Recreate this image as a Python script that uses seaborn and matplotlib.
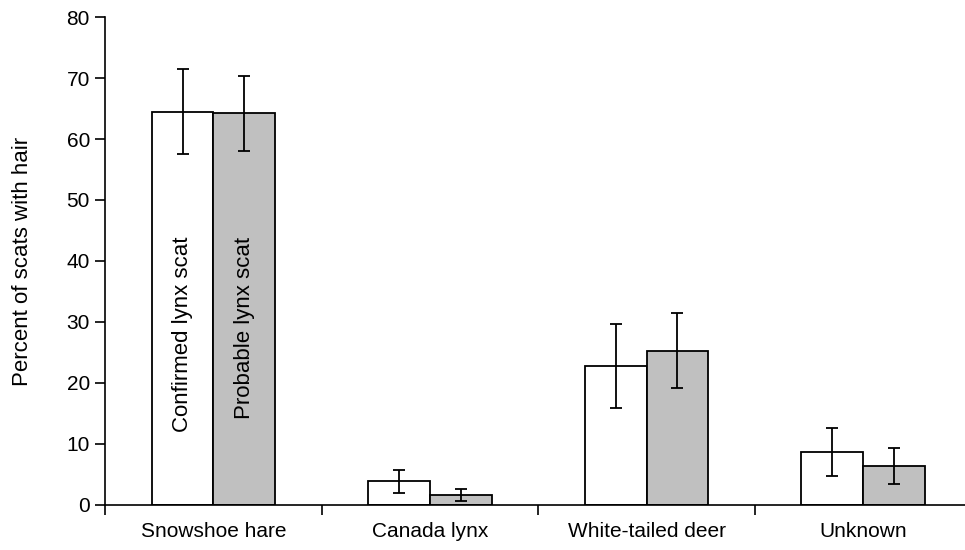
import matplotlib
matplotlib.use('Agg')
import matplotlib.pyplot as plt
import seaborn as sns
import pandas as pd

categories = ['Snowshoe hare', 'Canada lynx', 'White-tailed deer', 'Unknown']
groups = ['Confirmed lynx scat', 'Probable lynx scat']
confirmed = [64.5, 3.9, 22.8, 8.7]
probable = [64.2, 1.6, 25.3, 6.4]
confirmed_err = [6.9, 1.9, 6.9, 3.9]
probable_err = [6.2, 1.0, 6.1, 3.0]

df = pd.DataFrame({
    'category': categories * 2,
    'group': [groups[0]] * 4 + [groups[1]] * 4,
    'value': confirmed + probable,
    'err': confirmed_err + probable_err,
})

sns.set_style('ticks')
plt.rcParams['font.family'] = ['Liberation Sans', 'DejaVu Sans']
plt.rcParams['text.color'] = 'black'
plt.rcParams['axes.labelcolor'] = 'black'
plt.rcParams['xtick.color'] = 'black'
plt.rcParams['ytick.color'] = 'black'

fig = plt.figure(figsize=(9.65, 5.5), dpi=100)
ax = fig.add_axes([0.109, 0.082, 0.891, 0.887])

sns.barplot(data=df, x='category', y='value', hue='group', order=categories,
            hue_order=groups, palette=['white', '#c0c0c0'], edgecolor='black',
            linewidth=1.3, width=0.57, saturation=1, errorbar=None, legend=False, ax=ax)

# error bars at bar centres
for cont, g in zip(ax.containers, groups):
    sub = df[df['group'] == g].set_index('category').loc[categories]
    xs = [p.get_x() + p.get_width() / 2 for p in cont.patches]
    ax.errorbar(xs, sub['value'], yerr=sub['err'], fmt='none', ecolor='black',
                elinewidth=1.3, capsize=4, capthick=1.3)

# in-bar labels
for cont, g in zip(ax.containers, groups):
    p = cont.patches[0]
    ax.text(p.get_x() + p.get_width() / 2, 44, g, rotation=90, ha='center', va='top',
            fontsize=16)

ax.set_ylim(0, 80)
ax.set_yticks(range(0, 81, 10))
ax.set_xlim(-0.5, 3.47)
ax.set_xticks([-0.5, 0.5, 1.5, 2.5])
ax.set_xticklabels([])
ax.set_xticks(range(4), minor=True)
ax.set_xticklabels(categories, minor=True)
ax.tick_params(axis='x', which='minor', length=0, pad=12, labelsize=15)
ax.tick_params(axis='x', which='major', length=7, width=1.2)
ax.tick_params(axis='y', length=7, width=1.2, labelsize=15, pad=4)
ax.set_xlabel('')
ax.set_ylabel('Percent of scats with hair', fontsize=16, labelpad=24)
for s in ['top', 'right']:
    ax.spines[s].set_visible(False)
for s in ['left', 'bottom']:
    ax.spines[s].set_color('black')
    ax.spines[s].set_linewidth(1.2)

fig.savefig('out.png', dpi=100)
